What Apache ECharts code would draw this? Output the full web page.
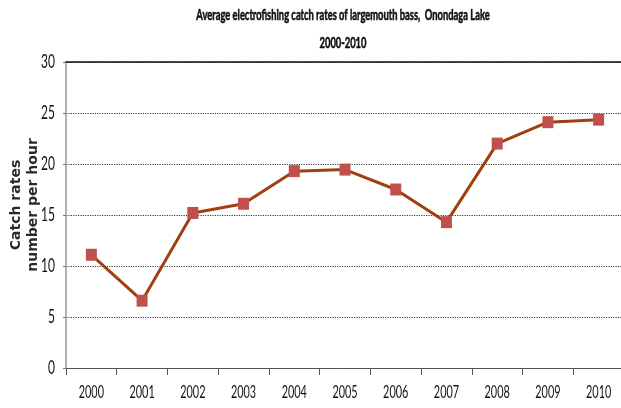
<!DOCTYPE html>
<html>
<head>
<meta charset="utf-8">
<script src="https://cdn.jsdelivr.net/npm/echarts@6/dist/echarts.min.js"></script>
<style>
  html, body { margin: 0; padding: 0; background: #fff; }
  #chart { width: 621px; height: 408px; }
</style>
</head>
<body>
<div id="chart"></div>
<script>
// Largemouth bass electrofishing catch rates, Onondaga Lake
const years = ['2000', '2001', '2002', '2003', '2004', '2005', '2006', '2007', '2008', '2009', '2010'];
const catchRates = [11.1, 6.6, 15.2, 16.1, 19.3, 19.45, 17.5, 14.3, 22.0, 24.1, 24.35];
const yTicks = [0, 5, 10, 15, 20, 25, 30];
const titleLines = ['Average electrofishing catch rates of largemouth bass,  Onondaga Lake', '2000-2010'];

const labelFont = 'Lato, "Open Sans", sans-serif';

const chart = echarts.init(document.getElementById('chart'), null, { renderer: 'canvas' });

chart.setOption({
  animation: false,
  backgroundColor: '#ffffff',
  grid: { left: 66, top: 62, width: 558, height: 306, containLabel: false, outerBoundsMode: 'none' },
  xAxis: [
    {
      type: 'category',
      data: years,
      boundaryGap: true,
      axisLine: { lineStyle: { color: '#555', width: 1 } },
      axisTick: { show: true, length: 7, alignWithLabel: false, lineStyle: { color: '#555' } },
      axisLabel: { show: false }
    },
    {
      type: 'category',
      data: years,
      position: 'top',
      axisLine: { lineStyle: { color: '#111', width: 1.5 } },
      axisTick: { show: false },
      axisLabel: { show: false }
    }
  ],
  yAxis: {
    type: 'value',
    min: yTicks[0],
    max: yTicks[yTicks.length - 1],
    interval: 5,
    name: 'Catch rates\nnumber per hour',
    nameLocation: 'middle',
    nameGap: 24,
    nameRotate: 90,
    nameTextStyle: {
      fontFamily: '"DejaVu Sans", sans-serif',
      fontSize: 14,
      fontWeight: 'bold',
      lineHeight: 17,
      color: '#2a2a2a',
      padding: [0, 0, 0, 20]
    },
    axisLine: { show: true, lineStyle: { color: '#999', width: 1.5 } },
    axisTick: { show: true, length: 3, lineStyle: { color: '#777' } },
    axisLabel: { show: false },
    splitLine: { show: true, lineStyle: { color: '#383838', type: 'dotted', width: 1.2 } }
  },
  series: [
    {
      type: 'line',
      data: catchRates,
      xAxisIndex: 0,
      symbol: 'rect',
      symbolSize: [11, 12],
      lineStyle: { color: '#a0400f', width: 3 },
      itemStyle: { color: '#c0504d', borderWidth: 0 },
      z: 3
    }
  ]
});

// Condensed text: tick labels and title placed through the axis scales
const graphics = [];

years.forEach(function (yr) {
  const px = chart.convertToPixel({ xAxisIndex: 0 }, yr);
  const base = chart.convertToPixel({ yAxisIndex: 0 }, yTicks[0]);
  graphics.push({
    type: 'text',
    x: px, y: base + 25,
    scaleX: 0.64,
    style: {
      text: yr, fontFamily: labelFont, fontSize: 17, fill: '#111',
      align: 'center', verticalAlign: 'middle'
    }
  });
});

yTicks.forEach(function (v) {
  const py = chart.convertToPixel({ yAxisIndex: 0 }, v);
  graphics.push({
    type: 'text',
    x: 55, y: py,
    scaleX: 0.6,
    style: {
      text: String(v), fontFamily: labelFont, fontSize: 20, fill: '#111',
      align: 'right', verticalAlign: 'middle'
    }
  });
});

titleLines.forEach(function (line, i) {
  graphics.push({
    type: 'text', x: 343, y: 15 + i * 28, scaleX: 0.585,
    style: {
      text: line, fontFamily: labelFont, fontWeight: 'bold', fontSize: 16,
      fill: '#111', stroke: '#111', lineWidth: 0.6,
      align: 'center', verticalAlign: 'middle'
    }
  });
});

chart.setOption({ graphic: graphics });
</script>
</body>
</html>
